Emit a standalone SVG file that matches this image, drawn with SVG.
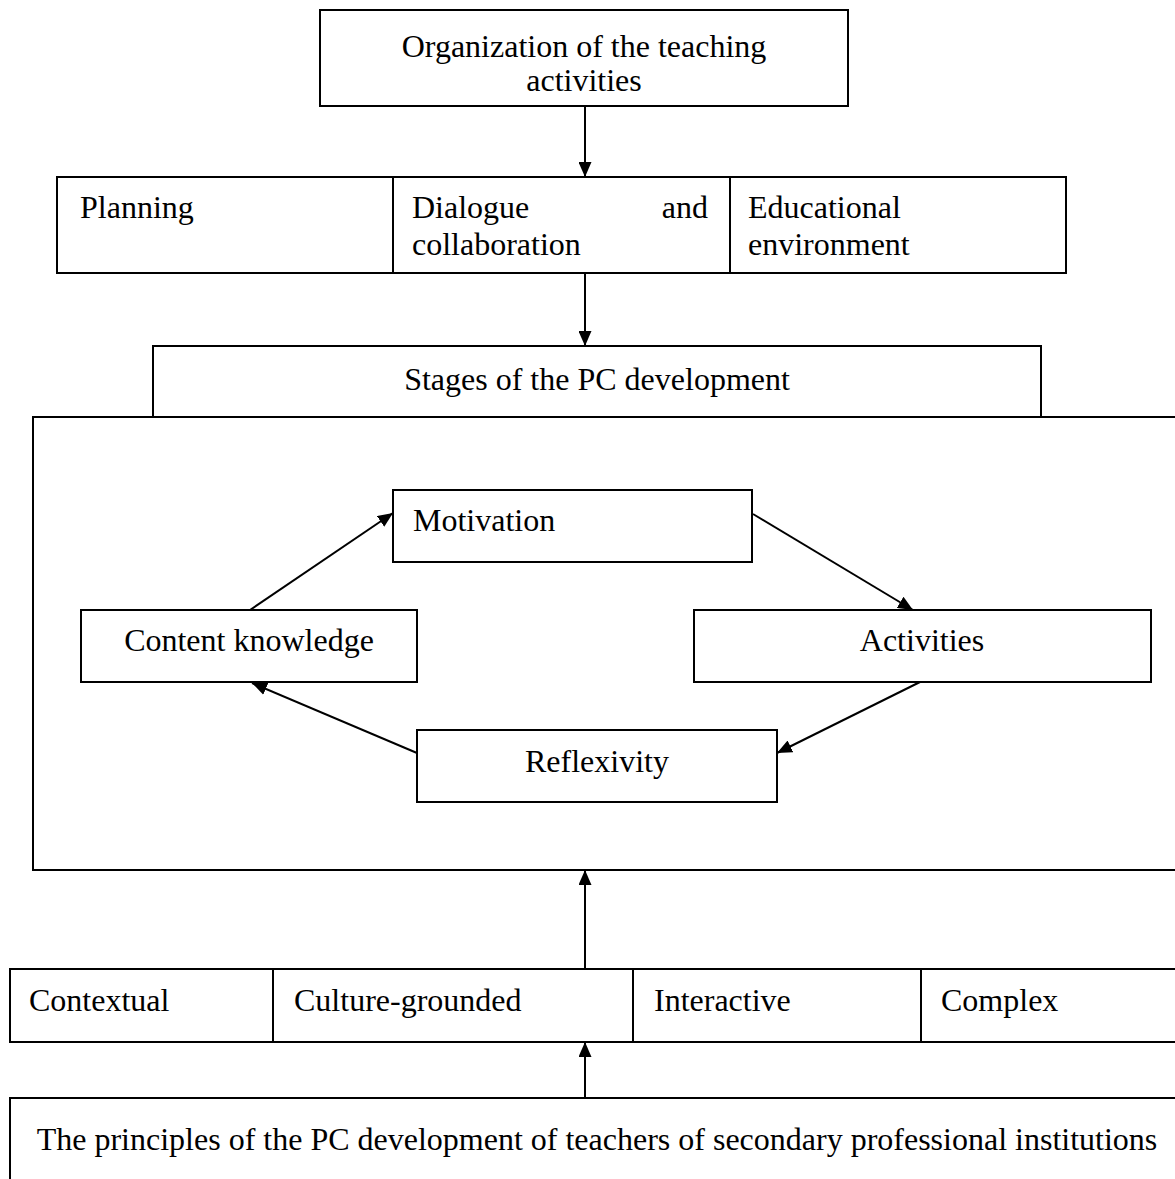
<svg xmlns="http://www.w3.org/2000/svg" width="1175" height="1179" viewBox="0 0 1175 1179">
<style>
.box{fill:none;stroke:#000;stroke-width:2}
.t{font-family:"Liberation Serif","Times New Roman",serif;font-size:32px;fill:#000}
.m{text-anchor:middle}
.e{text-anchor:end}
.c{stroke:#000;stroke-width:2;fill:none}
</style>
<defs>
<marker id="ah" markerUnits="userSpaceOnUse" markerWidth="15" markerHeight="13" refX="15" refY="6.5" orient="auto">
<path d="M0,0 L15,6.5 L0,13 z" fill="#000"/>
</marker>
</defs>
<rect width="1175" height="1179" fill="#fff"/>
<g id="organization">
<rect class="box" x="320" y="10" width="528" height="96"/>
<text class="t m" x="584" y="57">Organization of the teaching</text>
<text class="t m" x="584" y="91">activities</text>
</g>
<g id="row-organization">
<rect class="box" x="57" y="177" width="1009" height="96"/>
<line class="box" x1="393" y1="177" x2="393" y2="273"/>
<line class="box" x1="730" y1="177" x2="730" y2="273"/>
<g id="planning"><text class="t" x="80" y="218">Planning</text></g>
<g id="dialogue"><text class="t" x="412" y="218">Dialogue</text><text class="t e" x="708" y="218">and</text><text class="t" x="412" y="255">collaboration</text></g>
<g id="environment"><text class="t" x="748" y="218">Educational</text><text class="t" x="748" y="255">environment</text></g>
</g>
<g id="stages">
<rect class="box" x="153" y="346" width="888" height="71"/>
<text class="t m" x="597" y="390">Stages of the PC development</text>
</g>
<g id="stages-area">
<rect class="box" x="33" y="417" width="1170" height="453"/>
</g>
<g id="motivation">
<rect class="box" x="393" y="490" width="359" height="72"/>
<text class="t" x="413" y="531">Motivation</text>
</g>
<g id="content-knowledge">
<rect class="box" x="81" y="610" width="336" height="72"/>
<text class="t m" x="249" y="651">Content knowledge</text>
</g>
<g id="activities">
<rect class="box" x="694" y="610" width="457" height="72"/>
<text class="t m" x="922" y="651">Activities</text>
</g>
<g id="reflexivity">
<rect class="box" x="417" y="730" width="360" height="72"/>
<text class="t m" x="597" y="772">Reflexivity</text>
</g>
<g id="principles-row">
<rect class="box" x="10" y="969" width="1200" height="73"/>
<line class="box" x1="273" y1="969" x2="273" y2="1042"/>
<line class="box" x1="633" y1="969" x2="633" y2="1042"/>
<line class="box" x1="921" y1="969" x2="921" y2="1042"/>
<g id="contextual"><text class="t" x="29" y="1011">Contextual</text></g>
<g id="culture"><text class="t" x="294" y="1011">Culture-grounded</text></g>
<g id="interactive"><text class="t" x="654" y="1011">Interactive</text></g>
<g id="complex"><text class="t" x="941" y="1011">Complex</text></g>
</g>
<g id="principles">
<rect class="box" x="10" y="1098" width="1200" height="200"/>
<text class="t m" x="597" y="1150">The principles of the PC development of teachers of secondary professional institutions</text>
</g>
<g id="connectors">
<line class="c" x1="585" y1="106" x2="585" y2="177" marker-end="url(#ah)"/>
<line class="c" x1="585" y1="273" x2="585" y2="346" marker-end="url(#ah)"/>
<line class="c" x1="585" y1="969" x2="585" y2="870" marker-end="url(#ah)"/>
<line class="c" x1="585" y1="1098" x2="585" y2="1042" marker-end="url(#ah)"/>
<line class="c" x1="250" y1="610" x2="393" y2="513" marker-end="url(#ah)"/>
<line class="c" x1="753" y1="514" x2="913" y2="610" marker-end="url(#ah)"/>
<line class="c" x1="920" y1="682" x2="777" y2="753" marker-end="url(#ah)"/>
<line class="c" x1="417" y1="753" x2="252" y2="683" marker-end="url(#ah)"/>
</g>
</svg>
